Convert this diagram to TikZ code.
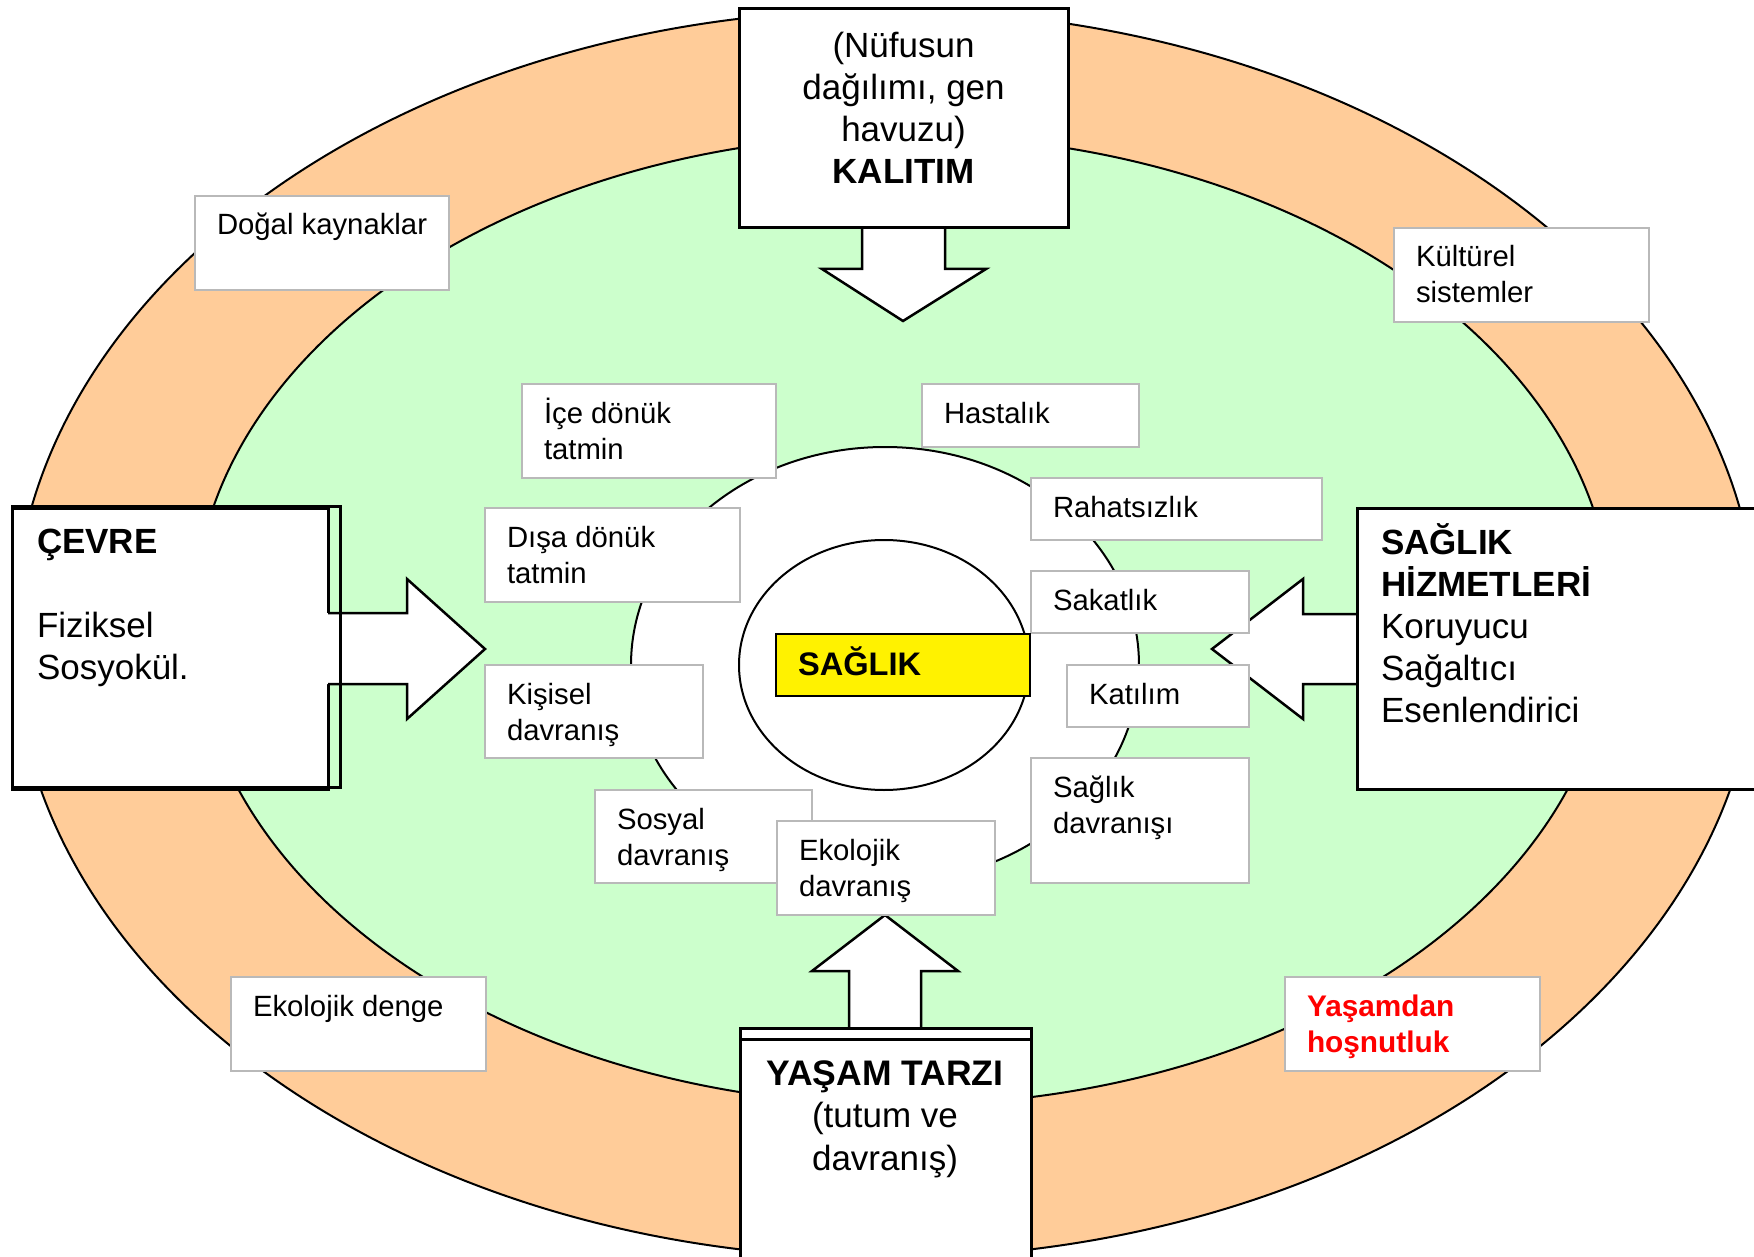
\documentclass[tikz,border=0pt]{standalone}
\usepackage{fontspec}
\setmainfont{Liberation Sans}
\usetikzlibrary{calc}
\definecolor{orangeC}{HTML}{FFCC99}
\definecolor{greenC}{HTML}{CCFFCC}
\newcommand{\mystrut}{\rule{0pt}{30pt}}
\newcommand{\mybigstrut}{\rule{0pt}{36pt}}
\tikzset{
  lblbox/.style={draw=gray!55, line width=1.2pt, fill=white, anchor=north west, inner sep=0pt, outer sep=0pt},
  lbltext/.style={anchor=north west, inner sep=0pt, outer sep=0pt, align=left, font=\fontsize{29.3}{36}\selectfont},
  bigbox/.style={draw=black, line width=3pt, fill=white, anchor=north west, inner sep=0pt, outer sep=0pt},
  backbox/.style={draw=black, line width=3pt, anchor=north west, inner sep=0pt, outer sep=0pt},
  bigtext/.style={inner sep=0pt, outer sep=0pt},
  blockarrow/.style={draw=black, line width=2.5pt, line join=miter, fill=white},
  ring/.style={draw=black, line width=2pt},
}
\newcommand{\lblbox}[6]{%
  \node[lblbox, minimum width=#4pt, minimum height=#5pt] (#1) at (#2,#3) {};
  \node[lbltext] (#1-t) at ($(#1.north west)+(22,9)$) {\mystrut #6};
}
\begin{document}
\begin{tikzpicture}[x=1pt,y=-1pt]
\useasboundingbox (0,0) rectangle (1754,1257);
\fill[white] (0,0) rectangle (1754,1257);

% rings
\draw[ring, fill=orangeC] (885.5,634) ellipse [x radius=872, y radius=624];
\draw[ring, fill=greenC] (903,620) ellipse [x radius=709, y radius=485];
\draw[ring, fill=white] (885,665) ellipse [x radius=254, y radius=218];
\draw[ring, fill=white] (884,665) ellipse [x radius=145, y radius=125];

% KALITIM
\filldraw[blockarrow] (862,226) -- (862,269) -- (822,269) -- (903,321) -- (986,269) -- (945,269) -- (945,226);
\node[bigbox, minimum width=329pt, minimum height=219pt] (kalitim) at (739,9) {};
\node[bigtext, anchor=north, align=center, font=\fontsize{35}{42}\selectfont] (kalitim-t) at ($(kalitim.north)+(0,13)$)
  {\mybigstrut(Nüfusun\\dağılımı, gen\\havuzu)\\\textbf{KALITIM}};

% SAGLIK HIZMETLERI
\filldraw[blockarrow] (1362,614) -- (1303,614) -- (1303,579) -- (1212,649) -- (1303,719) -- (1303,684) -- (1362,684);
\node[bigbox, minimum width=410pt, minimum height=281pt] (hizmet) at (1357,508) {};
\node[bigtext, anchor=north west, align=left, font=\fontsize{35}{42.2}\selectfont] (hizmet-t) at ($(hizmet.north west)+(24,10)$)
  {\mybigstrut\textbf{SAĞLIK}\\\textbf{HİZMETLERİ}\\Koruyucu\\Sağaltıcı\\Esenlendirici};

% YASAM TARZI
\filldraw[blockarrow] (849,1031) -- (849,971) -- (812,971) -- (885,915) -- (958,971) -- (921,971) -- (921,1031);
\node[bigbox, minimum width=291pt, minimum height=235pt] (yasam) at (740,1028) {};
\draw[line width=3pt] (yasam.north west |- 0,1039) -- (yasam.north east |- 0,1039);
\node[bigtext, anchor=north, align=center, font=\fontsize{35}{42.5}\selectfont] (yasam-t) at (885,1049)
  {\mybigstrut{\fontsize{35.5}{42.5}\selectfont\textbf{YAŞAM TARZI}}\\(tutum ve\\davranış)};

% CEVRE
\node[bigbox, minimum width=316pt, minimum height=281pt] (cevre) at (12,508) {};
\fill[white] (320,613) -- (407,613) -- (407,579) -- (485,649) -- (407,719) -- (407,684) -- (320,684) -- cycle;
\draw[blockarrow, fill=none] (328,613) -- (407,613) -- (407,579) -- (485,649) -- (407,719) -- (407,684) -- (328,684);
\node[backbox, minimum width=328pt, minimum height=281pt] (cevreback) at (12,506) {};
\node[bigtext, anchor=north west, align=left, font=\fontsize{35}{42}\selectfont] (cevre-t) at ($(cevre.north west)+(25,9)$)
  {\mybigstrut\textbf{ÇEVRE}\\[42pt]Fiziksel\\Sosyokül.};

% label boxes
\lblbox{dogal}{195}{196}{254}{94}{Doğal kaynaklar}
\lblbox{kultur}{1394}{228}{255}{94}{Kültürel\\sistemler}
\lblbox{ice}{522}{384}{254}{94}{İçe dönük\\tatmin}
\lblbox{hasta}{922}{384}{217}{63}{Hastalık}
\lblbox{disa}{485}{508}{255}{94}{Dışa dönük\\tatmin}
\lblbox{rahat}{1031}{478}{291}{62}{Rahatsızlık}
\lblbox{sakat}{1031}{571}{218}{62}{Sakatlık}
\lblbox{katil}{1067}{665}{182}{62}{Katılım}
\lblbox{kisisel}{485}{665}{218}{93}{Kişisel\\davranış}
\lblbox{saglikd}{1031}{758}{218}{125}{Sağlık\\davranışı}
\lblbox{sosyal}{595}{790}{217}{93}{Sosyal\\davranış}
\lblbox{ekod}{777}{821}{218}{94}{Ekolojik\\davranış}
\lblbox{ekodenge}{231}{977}{255}{94}{Ekolojik denge}
\node[lblbox, minimum width=255pt, minimum height=94pt] (yasamdan) at (1285,977) {};
\node[lbltext, text=red, font=\fontsize{29.8}{36}\selectfont\bfseries] (yasamdan-t) at ($(yasamdan.north west)+(22,9)$)
  {\mystrut Yaşamdan\\hoşnutluk};

% SAGLIK centre
\node[draw=black, line width=1.5pt, fill=yellow, anchor=north west, inner sep=0pt, outer sep=0pt,
      minimum width=254pt, minimum height=62pt] (saglik) at (776,634) {};
\node[anchor=north west, inner sep=0pt, outer sep=0pt, font=\fontsize{32.6}{38}\selectfont\bfseries] (saglik-t)
  at ($(saglik.north west)+(22,9)$) {\rule{0pt}{32pt}SAĞLIK};
\end{tikzpicture}
\end{document}
